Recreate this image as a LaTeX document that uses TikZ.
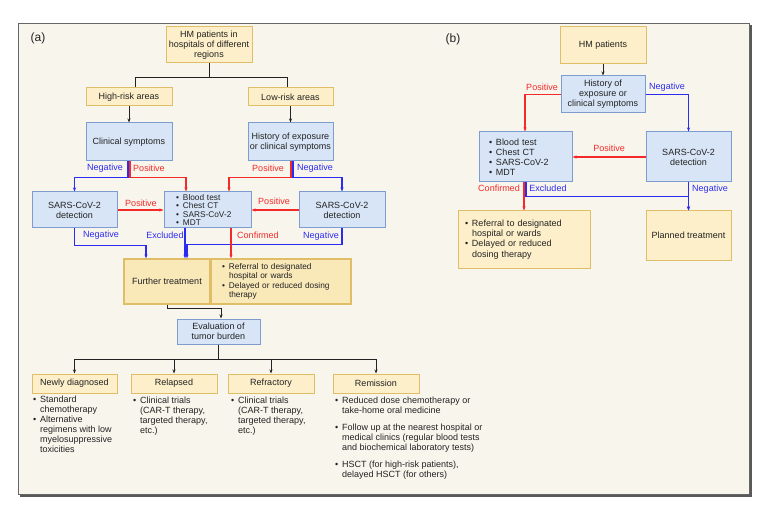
\documentclass[tikz,border=0pt]{standalone}
\usepackage{fontspec}
\setmainfont{Liberation Sans}
\usetikzlibrary{arrows.meta}
\definecolor{bgc}{HTML}{F8F5EC}
\definecolor{ybf}{HTML}{FDEFC9}
\definecolor{ybd}{HTML}{E0BE68}
\definecolor{yf2}{HTML}{F9E8B8}
\definecolor{bbf}{HTML}{D8E5F7}
\definecolor{bbd}{HTML}{7D9DD0}
\definecolor{rl}{HTML}{F42A2A}
\definecolor{bll}{HTML}{2B2BF2}
\definecolor{txt}{HTML}{222222}
\newcommand\bu{\makebox[7pt][l]{•}}
\newcommand\bi{\hspace*{7pt}}
\begin{document}
\begin{tikzpicture}[x=1pt,y=-1pt,
 every node/.style={font=\fontsize{9}{10}\selectfont, text=txt},
 ybox/.style={draw=ybd, fill=ybf, line width=1pt, inner sep=0pt, align=center},
 ybox2/.style={draw=ybd, fill=yf2, line width=1.2pt, inner sep=0pt, align=center},
 bbox/.style={draw=bbd, fill=bbf, line width=1pt, inner sep=0pt, align=center},
 arr/.style={-{Stealth[length=4pt,width=3pt]}, line width=1pt, draw=txt},
 pl/.style={line width=1pt, draw=txt},
 rarr/.style={-{Stealth[length=4pt,width=3pt]}, line width=1.2pt, draw=rl},
 barr/.style={-{Stealth[length=4pt,width=3pt]}, line width=1.2pt, draw=bll},
 rlab/.style={text=rl},
 blab/.style={text=bll},
 lst/.style={align=left, inner sep=0pt, anchor=north west},
]
\useasboundingbox (0,0) rectangle (763,505);
\fill[white] (0,0) rectangle (763,505);
\fill[black!65] (20,25) rectangle (752,497);
\draw[fill=bgc, draw=black!60, line width=0.8pt] (18,23) rectangle (749.5,494.5);

\node[font=\fontsize{12}{14}\selectfont] (la) at (38,38) {(a)};
\node[font=\fontsize{12}{14}\selectfont] (lb) at (453,39) {(b)};

% ---------- panel (a)
\node[ybox, minimum width=86, minimum height=36] (hm) at (209,45) {HM patients in\\hospitals of different\\regions};
\node[ybox, minimum width=86, minimum height=18] (high) at (129,97) {High-risk areas};
\node[ybox, minimum width=85, minimum height=18] (low) at (290.5,97) {Low-risk areas};
\node[bbox, minimum width=86, minimum height=38] (clin) at (129,142) {Clinical symptoms};
\node[bbox, minimum width=85, minimum height=38] (hist) at (290.5,142) {History of exposure\\or clinical symptoms};
\node[bbox, minimum width=85, minimum height=36] (sarsL) at (74.5,210) {SARS-CoV-2\\detection};
\node[bbox, minimum height=36, inner xsep=12pt, text width=63pt, align=left,
      font=\fontsize{8.3}{8.2}\selectfont] (blood) at (207.5,210)
      {\bu Blood test\\\bu Chest CT\\\bu SARS-CoV-2\\\bu MDT};
\node[bbox, minimum width=86, minimum height=36] (sarsR) at (342,210) {SARS-CoV-2\\detection};
\node[ybox2, minimum width=86, minimum height=45] (further) at (167,281.5) {Further treatment};
\node[ybox2, minimum height=45, inner xsep=11pt, text width=118pt, align=left,
      font=\fontsize{8.3}{9.3}\selectfont] (refA) at (281,281.5)
      {\bu Referral to designated\\\bi hospital or wards\\\bu Delayed or reduced dosing\\\bi therapy};
\node[bbox, minimum width=83, minimum height=25] (eval) at (218.5,331.5) {Evaluation of\\tumor burden};
\node[ybox, minimum width=85, minimum height=19] (nd) at (74.5,383.5) {Newly diagnosed};
\node[ybox, minimum width=86, minimum height=19] (rel) at (174,383.5) {Relapsed};
\node[ybox, minimum width=86, minimum height=19] (refr) at (271,383.5) {Refractory};
\node[ybox, minimum width=86, minimum height=19] (rem) at (376,383.5) {Remission};

\node[lst] (ndl) at (33,396) {\bu Standard\\\bi chemotherapy\\\bu Alternative\\\bi regimens with low\\\bi myelosuppressive\\\bi toxicities};
\node[lst] (rell) at (133,397) {\bu Clinical trials\\\bi (CAR-T therapy,\\\bi targeted therapy,\\\bi etc.)};
\node[lst] (refrl) at (231,397) {\bu Clinical trials\\\bi (CAR-T therapy,\\\bi targeted therapy,\\\bi etc.)};
\node[lst] (reml) at (335,397) {\bu Reduced dose chemotherapy or\\\bi take-home oral medicine\\[7pt]\bu Follow up at the nearest hospital or\\\bi medical clinics (regular blood tests\\\bi and biochemical laboratory tests)\\[7pt]\bu HSCT (for high-risk patients),\\\bi delayed HSCT (for others)};

% black connectors (a)
\draw[pl] (hm.south) -- ++(0,14) -| ([xshift=6pt]high.north);
\draw[pl] (hm.south) -- ++(0,14) -| ([xshift=-3.5pt]low.north);
\draw[arr] (high.south) -- (clin.north);
\draw[arr] (low.south) -- (hist.north);

% coloured connectors (a)
\draw[barr] ([xshift=-1pt]clin.south) -- ++(0,16) -| (sarsL.north);
\draw[rarr] ([xshift=1pt]clin.south) -- ++(0,16) -| ([xshift=-21.5pt]blood.north);
\draw[rarr] ([xshift=0.5pt]hist.south) -- ++(0,16) -| ([xshift=21.5pt]blood.north);
\draw[barr] ([xshift=2.5pt]hist.south) -- ++(0,16) -| (sarsR.north);
\draw[rarr] (sarsL.east) -- (blood.west);
\draw[rarr] (sarsR.west) -- (blood.east);
\draw[barr] (sarsL.south) -- ++(0,17) -| ([xshift=-21pt]further.north);
\draw[barr] ([xshift=-22.5pt]blood.south) -- ([xshift=18pt]further.north);
\draw[barr] (sarsR.south) -- ++(0,16) -| ([xshift=20pt]further.north);
\draw[rarr] ([xshift=23.5pt]blood.south) -- ([xshift=-50pt]refA.north);

\draw[arr] (further.south) -- ++(0,4) -| ([xshift=2.5pt]eval.north);
\draw[arr] (eval.south) -- ++(0,15) -| (nd.north);
\draw[arr] (eval.south) -- ++(0,15) -| (rel.north);
\draw[arr] (eval.south) -- ++(0,15) -| (refr.north);
\draw[arr] (eval.south) -- ++(0,15) -| (rem.north);

% labels (a)
\node[blab] (l1) at (105,168) {Negative};
\node[rlab] (l2) at (149,168) {Positive};
\node[rlab] (l3) at (268,168) {Positive};
\node[blab] (l4) at (315,168) {Negative};
\node[rlab] (l5) at (141,203) {Positive};
\node[rlab] (l6) at (274,201) {Positive};
\node[blab] (l7) at (101,235) {Negative};
\node[blab] (l8) at (165,235) {Excluded};
\node[rlab] (l9) at (258,235) {Confirmed};
\node[blab] (l10) at (321,236) {Negative};

% ---------- panel (b)
\node[ybox, minimum width=86, minimum height=37] (hmb) at (603,45.5) {HM patients};
\node[bbox, minimum width=84, minimum height=37] (histb) at (603,94.5) {History of\\exposure or\\clinical symptoms};
\node[bbox, minimum height=50, inner xsep=10pt, text width=73pt, align=left] (bloodb) at (525.5,157)
      {\bu Blood test\\\bu Chest CT\\\bu SARS-CoV-2\\\bu MDT};
\node[bbox, minimum width=85, minimum height=50] (sarsb) at (688.5,157) {SARS-CoV-2\\detection};
\node[ybox, minimum height=57, inner xsep=7pt, text width=118pt, align=left,
      font=\fontsize{9}{10.3}\selectfont] (refb) at (524,239.5)
      {\bu Referral to designated\\\bi hospital or wards\\\bu Delayed or reduced\\\bi dosing therapy};
\node[ybox, minimum width=85, minimum height=49] (planned) at (688.5,235.5) {Planned treatment};

\draw[arr] (hmb.south) -- (histb.north);
\draw[rarr] (histb.west) -| ([xshift=-0.5pt]bloodb.north);
\draw[barr] (histb.east) -| (sarsb.north);
\draw[rarr] (sarsb.west) -- (bloodb.east);
\draw[rarr] ([xshift=-1.5pt]bloodb.south) -- (refb.north);
\draw[barr] ([xshift=0.5pt]bloodb.south) -- ++(0,14) -| (planned.north);
\draw[barr] (sarsb.south) -- (planned.north);

\node[rlab] (m1) at (542,87) {Positive};
\node[blab] (m2) at (667,87) {Negative};
\node[rlab] (m3) at (609,148) {Positive};
\node[rlab] (m4) at (499,188) {Confirmed};
\node[blab] (m5) at (548,188) {Excluded};
\node[blab] (m6) at (710,189) {Negative};
\end{tikzpicture}
\end{document}
